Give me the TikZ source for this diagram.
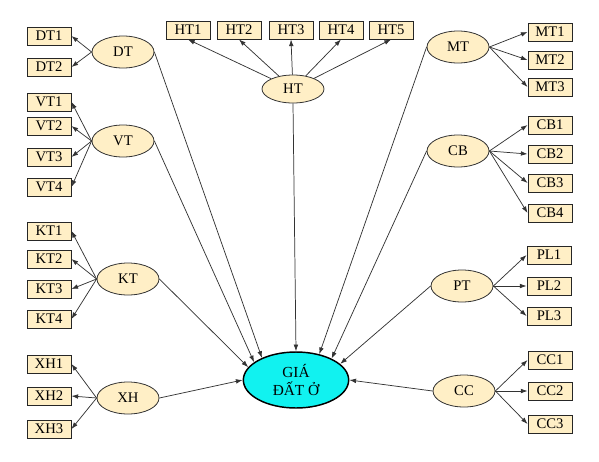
\documentclass[tikz,border=0pt]{standalone}
\usepackage{fontspec}
\setmainfont{Liberation Serif}
\usepackage{tikz}
\usetikzlibrary{shapes.geometric, arrows.meta, positioning}
\definecolor{factorfill}{HTML}{FFEFC6}
\definecolor{itemfill}{HTML}{FFEFC6}
\definecolor{goalfill}{HTML}{11F2F0}

\begin{document}
\begin{tikzpicture}[
  x=0.75pt, y=-0.75pt,
  factor/.style={
    ellipse, draw=black!80, fill=factorfill, line width=0.6pt,
    minimum width=46.5pt, minimum height=24pt, inner sep=0pt,
    font=\fontsize{11}{12}\selectfont,
  },
  item/.style={
    rectangle, draw=black!85, fill=itemfill, line width=0.7pt,
    minimum width=33pt, minimum height=13.5pt, inner sep=0pt,
    font=\fontsize{11}{12}\selectfont,
  },
  goal/.style={
    ellipse, draw=black, fill=goalfill, line width=1.1pt,
    minimum width=79pt, minimum height=42pt, inner sep=0pt, align=center,
    font=\fontsize{11.5}{14}\selectfont,
  },
  link/.style={-{Latex[length=5pt,width=3.5pt]}, line width=0.55pt, black!80},
]
  \useasboundingbox (0,0) rectangle (599,461);

  % centre
  \node[goal] (gia) at (296,380) {GIÁ\\ĐẤT Ở};

  % left side
  \node[factor] (dt) at (123,52) {DT};
  \node[item] (dt1) at (49,36) {DT1};
  \node[item] (dt2) at (49,67) {DT2};

  \node[factor] (vt) at (123,141) {VT};
  \node[item] (vt1) at (49,102) {VT1};
  \node[item] (vt2) at (49,126) {VT2};
  \node[item] (vt3) at (49,157) {VT3};
  \node[item] (vt4) at (49,187) {VT4};

  \node[factor] (kt) at (128,279) {KT};
  \node[item] (kt1) at (49,231) {KT1};
  \node[item] (kt2) at (49,259) {KT2};
  \node[item] (kt3) at (49,289) {KT3};
  \node[item] (kt4) at (49,319) {KT4};

  \node[factor] (xh) at (128,398) {XH};
  \node[item] (xh1) at (49,364) {XH1};
  \node[item] (xh2) at (49,396) {XH2};
  \node[item] (xh3) at (49,429) {XH3};

  % top
  \node[factor, minimum height=21pt] (ht) at (293,89) {HT};
  \node[item] (ht1) at (188,30) {HT1};
  \node[item] (ht2) at (239,30) {HT2};
  \node[item] (ht3) at (291,30) {HT3};
  \node[item] (ht4) at (341,30) {HT4};
  \node[item] (ht5) at (391,30) {HT5};

  % right side
  \node[factor] (mt) at (458,47) {MT};
  \node[item] (mt1) at (550,32) {MT1};
  \node[item] (mt2) at (550,60) {MT2};
  \node[item] (mt3) at (550,87) {MT3};

  \node[factor] (cb) at (458,151) {CB};
  \node[item] (cb1) at (550,125) {CB1};
  \node[item] (cb2) at (550,154) {CB2};
  \node[item] (cb3) at (550,183) {CB3};
  \node[item] (cb4) at (550,213) {CB4};

  \node[factor] (pt) at (462,286) {PT};
  \node[item] (pl1) at (549,255) {PL1};
  \node[item] (pl2) at (549,286) {PL2};
  \node[item] (pl3) at (549,316) {PL3};

  \node[factor] (cc) at (464,391) {CC};
  \node[item] (cc1) at (550,360) {CC1};
  \node[item] (cc2) at (550,391) {CC2};
  \node[item] (cc3) at (550,424) {CC3};

  % factors to their items
  \draw[link] (dt.west) -- (dt1.east);
  \draw[link] (dt.west) -- (dt2.east);
  \draw[link] (vt.west) -- (vt1.east);
  \draw[link] (vt.west) -- (vt2.east);
  \draw[link] (vt.west) -- (vt3.east);
  \draw[link] (vt.west) -- (vt4.east);
  \draw[link] (kt.west) -- (kt1.east);
  \draw[link] (kt.west) -- (kt2.east);
  \draw[link] (kt.west) -- (kt3.east);
  \draw[link] (kt.west) -- (kt4.east);
  \draw[link] (xh.west) -- (xh1.east);
  \draw[link] (xh.west) -- (xh2.east);
  \draw[link] (xh.west) -- (xh3.east);
  \draw[link] (ht) -- (ht1.south);
  \draw[link] (ht) -- (ht2.south);
  \draw[link] (ht) -- (ht3.south);
  \draw[link] (ht) -- (ht4.south);
  \draw[link] (ht) -- (ht5.south);
  \draw[link] (mt.east) -- (mt1.west);
  \draw[link] (mt.east) -- (mt2.west);
  \draw[link] (mt.east) -- (mt3.west);
  \draw[link] (cb.east) -- (cb1.west);
  \draw[link] (cb.east) -- (cb2.west);
  \draw[link] (cb.east) -- (cb3.west);
  \draw[link] (cb.east) -- (cb4.west);
  \draw[link] (pt.east) -- (pl1.west);
  \draw[link] (pt.east) -- (pl2.west);
  \draw[link] (pt.east) -- (pl3.west);
  \draw[link] (cc.east) -- (cc1.west);
  \draw[link] (cc.east) -- (cc2.west);
  \draw[link] (cc.east) -- (cc3.west);

  % factors to the centre
  \draw[link] (dt.east) -- (gia.147);
  \draw[link] (vt.east) -- (gia.157);
  \draw[link] (kt.east) -- (gia.165);
  \draw[link] (xh.east) -- (gia.west);
  \draw[link] (ht.south) -- (gia.north);
  \draw[link] (mt.west) -- (gia.48);
  \draw[link] (cb.west) -- (gia.31);
  \draw[link] (pt.west) -- (gia.20);
  \draw[link] (cc.west) -- (gia.east);
\end{tikzpicture}
\end{document}
